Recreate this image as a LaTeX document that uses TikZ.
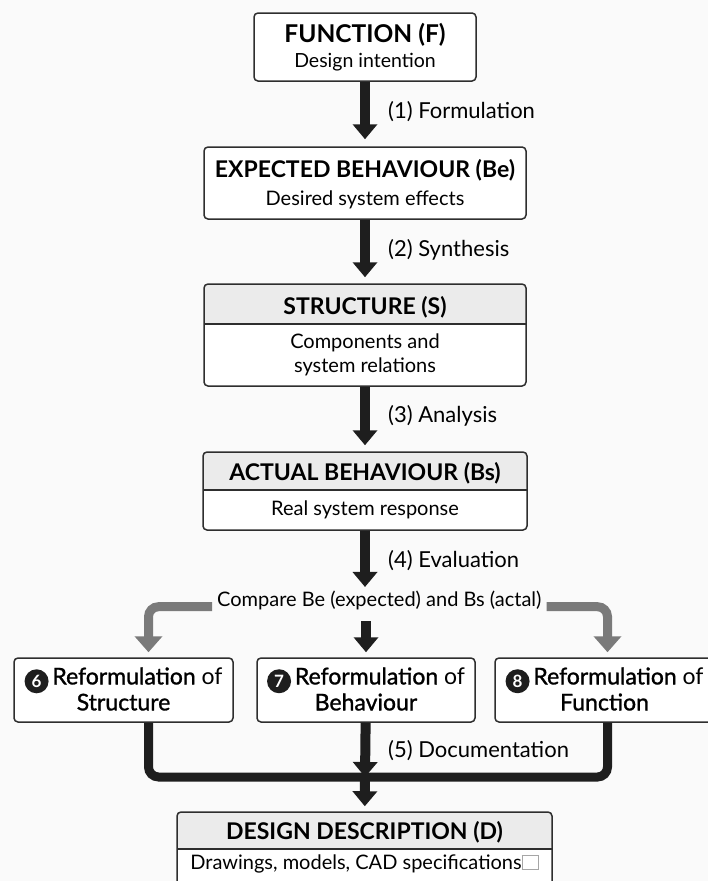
\documentclass[tikz,border=0pt]{standalone}
\usepackage{fontspec}
\setmainfont{Lato}
\newfontfamily\medfont[FakeBold=1.2]{Lato}
\usetikzlibrary{arrows.meta}
\definecolor{boxline}{HTML}{2E2E2E}
\definecolor{hdrgray}{HTML}{EBEBEB}
\definecolor{arrgray}{HTML}{7A7A7A}
\definecolor{arrblack}{HTML}{1E1E1E}
\definecolor{bggray}{HTML}{FAFAFA}
\newcommand{\numdot}[1]{\tikz[baseline={([yshift=3pt]n.base)}]\node[circle, fill=arrblack, text=white, inner sep=0pt, minimum size=24pt, font=\bfseries\fontsize{17}{17}\selectfont] (n) {#1};}

\begin{document}
\begin{tikzpicture}[x=1pt,y=-1pt]
  \tikzset{
    box/.style={draw=boxline, line width=1.5pt, rounded corners=4pt, fill=white, inner sep=0pt},
    hdrbox/.style={box, path picture={
        \fill[hdrgray] (path picture bounding box.north west) rectangle ([yshift=-#1]path picture bounding box.north east);
        \draw[boxline, line width=1.5pt] ([yshift=-#1]path picture bounding box.north west) -- ([yshift=-#1]path picture bounding box.north east);}},
    head/.style={font=\fontsize{23}{27}\selectfont\bfseries, anchor=base, inner sep=0pt},
    sub/.style={font=\fontsize{20}{23.4}\selectfont, anchor=base, inner sep=0pt},
    lbl/.style={font=\fontsize{22}{26}\selectfont, anchor=base west, inner sep=0pt},
    refo/.style={font=\fontsize{23}{26}\selectfont, align=center},
    flow/.style={arrblack, line width=10pt, -{Triangle[width=24pt,length=15pt]}},
    back/.style={arrgray, line width=9pt, rounded corners=10pt, -{Triangle[width=27pt,length=16pt]}},
    merge/.style={arrblack, line width=9pt, rounded corners=10pt}
  }
  \fill[bggray] (0,0) rectangle (708,881);
  \useasboundingbox (0,0) rectangle (708,881);

  % main column
  \node[box, minimum width=222pt, minimum height=68pt] (F) at (365,47) {};
  \node[head, font=\fontsize{24.5}{28}\selectfont\bfseries] (Fh) at (365,42.7) {FUNCTION (F)};
  \node[sub, font=\fontsize{19.5}{23}\selectfont] (Fs) at (365,67.7) {Design intention};

  \node[box, minimum width=322pt, minimum height=72pt] (Be) at (365,183) {};
  \node[head] (Beh) at (365,177.3) {EXPECTED BEHAVIOUR (Be)};
  \node[sub] (Bes) at (365,205) {Desired system effects};

  \node[hdrbox=40pt, minimum width=322pt, minimum height=102pt] (S) at (365,335) {};
  \node[head] (Sh) at (365,314.3) {STRUCTURE (S)};
  \node[sub, anchor=center, align=center] (Ss) at (365,355) {Components and\\system relations};

  \node[hdrbox=38pt, minimum width=324pt, minimum height=78pt] (Bs) at (365,491) {};
  \node[head] (Bsh) at (365,480) {ACTUAL BEHAVIOUR (Bs)};
  \node[sub] (Bss) at (365,515) {Real system response};

  \node[lbl, font=\fontsize{20}{24}\selectfont, inner xsep=5pt] (cmp) at (212,606.7) {Compare Be (expected) and Bs (actal)};

  % reformulation boxes
  \node[box, minimum width=219pt, minimum height=64pt] (R6) at (123.5,690) {};
  \node[box, minimum width=218pt, minimum height=64pt] (R7) at (366,690) {};
  \node[box, minimum width=219pt, minimum height=64pt] (R8) at (604.5,690) {};
  \node[refo] (R6t) at (123.5,689) {\numdot{6}\,{\medfont Reformulation} of\\{\medfont Structure}};
  \node[refo] (R7t) at (366,689) {\numdot{7}\,{\medfont Reformulation} of\\{\medfont Behaviour}};
  \node[refo] (R8t) at (604.5,689) {\numdot{8}\,{\medfont Reformulation} of\\{\medfont Function}};

  \node[hdrbox=37pt, minimum width=375pt, minimum height=84pt] (D) at (364.5,854) {};
  \node[head] (Dh) at (364.5,839.3) {DESIGN DESCRIPTION (D)};
  \node[sub] (Ds) at (364.5,869.3) {Drawings, models, CAD specifications{\color{gray!70}\fboxsep=0pt\fboxrule=1pt\fbox{\rule{0pt}{13pt}\hspace{15pt}}}};

  % connectors
  \draw[flow, shorten >=7pt] (F) -- (Be);
  \draw[flow, shorten >=6pt] (Be) -- (S);
  \draw[flow, shorten >=6pt] (S) -- (Bs);
  \draw[flow, shorten >=4pt] (Bs) -- (Bs |- cmp.north);
  \draw[flow, shorten <=11pt, shorten >=5pt] (R7 |- cmp.south) -- (R7);
  \draw[back, shorten >=5pt] (cmp.base west) -| ([xshift=25pt]R6.north);
  \draw[back, shorten >=5pt] (cmp.base east) -| ([xshift=3pt]R8.north);

  \coordinate (join) at (365,777);
  \draw[merge] ([xshift=25pt]R6.south) |- (join) -| ([xshift=3pt]R8.south);
  \draw[flow] (R7) -- (join);
  \draw[flow, shorten >=5pt] (join) -- (D);

  \node[lbl] (l1) at (388,118.3) {(1) Formulation};
  \node[lbl] (l2) at (388,256) {(2) Synthesis};
  \node[lbl] (l3) at (388,422.7) {(3) Analysis};
  \node[lbl] (l4) at (388,567.3) {(4) Evaluation};
  \node[lbl] (l5) at (388,757.3) {(5) Documentation};
\end{tikzpicture}
\end{document}
